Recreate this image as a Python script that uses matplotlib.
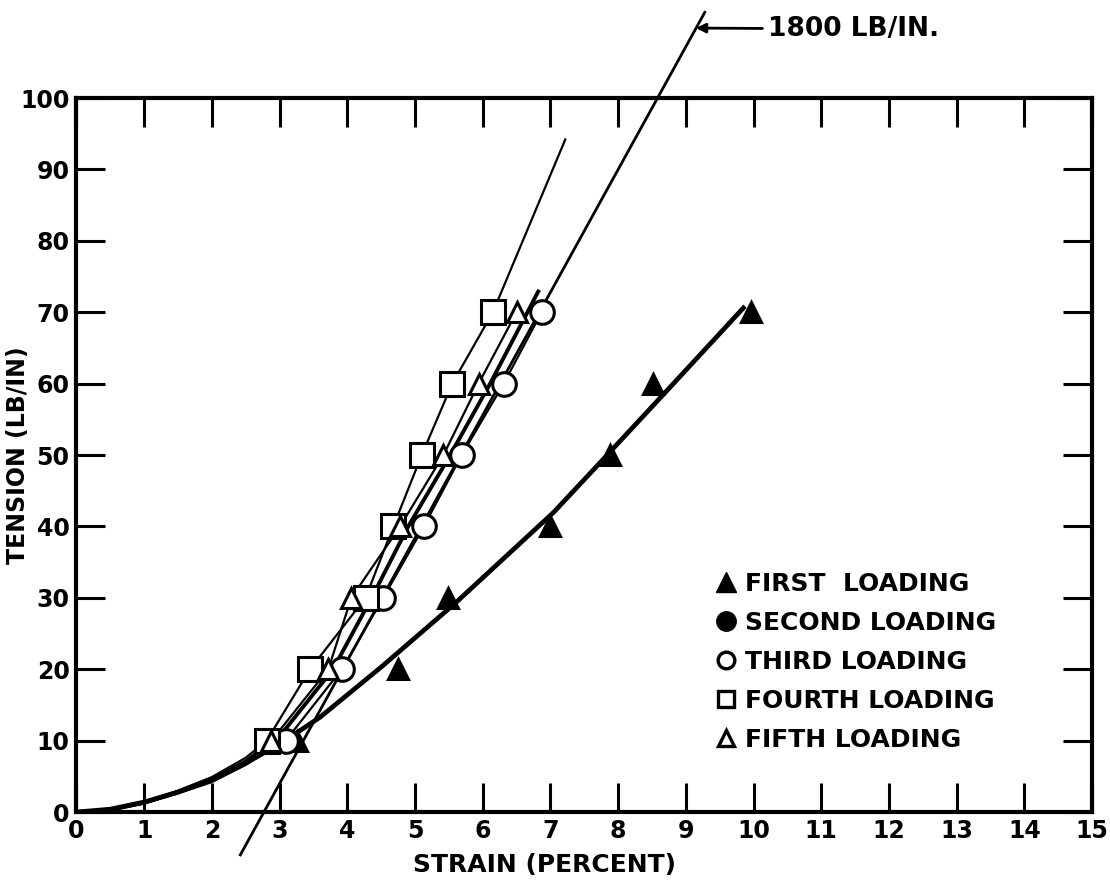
import matplotlib.pyplot as plt
from matplotlib.lines import Line2D

plt.rcParams['font.family'] = ['DejaVu Sans']
plt.rcParams['font.weight'] = 'bold'
plt.rcParams['axes.labelweight'] = 'bold'

# first loading: measured points and the faired curve through them
first_x = [3.25, 4.75, 5.49, 6.99, 7.88, 8.52, 9.97]
first_y = [10, 20, 30, 40, 50, 60, 70]
first_curve_x = [0, 0.5, 1, 1.5, 2, 2.5, 3, 3.6, 4.5, 5.6, 7.05, 7.73, 8.69, 9.85]
first_curve_y = [0, 0.4, 1.4, 2.8, 4.6, 6.9, 9.5, 13.3, 20.3, 29.3, 42, 48.9, 58.7, 70.6]

# second loading (curve only)
second_x = [0, 0.5, 1, 1.5, 2, 2.5, 2.95, 3.79, 4.36, 4.9, 5.52, 6.11, 6.82]
second_y = [0, 0.3, 1.3, 2.8, 4.5, 7.0, 10, 20, 30, 40, 50, 60, 72.9]

# third loading
third_x = [3.09, 3.92, 4.53, 5.13, 5.69, 6.31, 6.87]
third_y = [10, 20, 30, 40, 50, 60, 70]
third_start_x = [0, 0.5, 1, 1.5, 2, 2.5, 3.09]
third_start_y = [0, 0.3, 1.2, 2.6, 4.2, 6.6, 10]

# fourth loading
fourth_x = [2.81, 3.45, 4.27, 4.68, 5.10, 5.55, 6.15]
fourth_y = [10, 20, 30, 40, 50, 60, 70]
fourth_start_x = [0, 0.5, 1, 1.5, 2, 2.5, 2.81]
fourth_start_y = [0, 0.35, 1.4, 3.0, 4.9, 7.6, 10]
fourth_ext_x = [6.15, 7.22]
fourth_ext_y = [70, 94.2]

# fifth loading
fifth_x = [2.88, 3.72, 4.06, 4.78, 5.42, 5.94, 6.50]
fifth_y = [10, 20, 30, 40, 50, 60, 70]
fifth_start_x = [0, 0.5, 1, 1.5, 2, 2.5, 2.88]
fifth_start_y = [0, 0.3, 1.3, 2.9, 4.6, 7.2, 10]

# 1800 lb/in reference slope
slope_x = [2.42, 9.28]
slope_y = [-6, 112]

x_ticks = list(range(0, 16))
y_ticks = list(range(0, 101, 10))

fig = plt.figure(figsize=(11.1, 8.84), dpi=100)
ax = fig.add_axes([0.0689, 0.0814, 0.9149, 0.8077])

mk = dict(markersize=17, markeredgewidth=2.2, markeredgecolor='black',
          markerfacecolor='white', linestyle='none', zorder=4)

ax.plot(first_curve_x, first_curve_y, color='black', lw=3.4, zorder=3)
ax.plot(first_x, first_y, marker='^', **{**mk, 'markerfacecolor': 'black', 'markersize': 15})

ax.plot(second_x, second_y, color='black', lw=2.8, zorder=3)

ax.plot(third_start_x + third_x[1:], third_start_y + third_y[1:], color='black', lw=1.6, zorder=3)
ax.plot(third_x, third_y, marker='o', **mk)

ax.plot(fourth_start_x + fourth_x[1:], fourth_start_y + fourth_y[1:], color='black', lw=1.6, zorder=3)
ax.plot(fourth_ext_x, fourth_ext_y, color='black', lw=1.6, zorder=3)
ax.plot(fourth_x, fourth_y, marker='s', **mk)

ax.plot(fifth_start_x + fifth_x[1:], fifth_start_y + fifth_y[1:], color='black', lw=1.6, zorder=3)
ax.plot(fifth_x, fifth_y, marker='^', **{**mk, 'markersize': 15})

ax.plot(slope_x, slope_y, color='black', lw=2.0, clip_on=False, zorder=3)

ax.annotate('1800 LB/IN.', xy=(9.15, 109.8), xytext=(768 / 1110, 1 - 29 / 884),
            textcoords='figure fraction', ha='left', va='center', fontsize=19,
            annotation_clip=False,
            arrowprops=dict(arrowstyle='-|>', color='black', lw=2,
                            shrinkA=2, shrinkB=0, mutation_scale=14))

ax.set_xlim(0, 15)
ax.set_ylim(0, 100)
ax.set_xticks(x_ticks)
ax.set_yticks(y_ticks)
ax.tick_params(direction='in', length=21, width=2.2, top=True, right=True,
               labelsize=17, pad=5)
for s in ax.spines.values():
    s.set_linewidth(3)

ax.set_xlabel('STRAIN (PERCENT)', fontsize=18)
ax.set_ylabel('TENSION (LB/IN)', fontsize=17)
ax.xaxis.set_label_coords(0.461, -0.058)
ax.yaxis.set_label_coords(-0.046, 0.5)

handles = [
    Line2D([], [], marker='^', linestyle='none', markersize=14, markerfacecolor='black',
           markeredgecolor='black'),
    Line2D([], [], marker='o', linestyle='none', markersize=14, markerfacecolor='black',
           markeredgecolor='black'),
    Line2D([], [], marker='o', linestyle='none', markersize=12, markerfacecolor='white',
           markeredgecolor='black', markeredgewidth=2.4),
    Line2D([], [], marker='s', linestyle='none', markersize=12, markerfacecolor='white',
           markeredgecolor='black', markeredgewidth=2.4),
    Line2D([], [], marker='^', linestyle='none', markersize=12, markerfacecolor='white',
           markeredgecolor='black', markeredgewidth=2.4),
]
labels = ['FIRST  LOADING', 'SECOND LOADING', 'THIRD LOADING', 'FOURTH LOADING', 'FIFTH LOADING']
ax.legend(handles, labels, loc='upper left', bbox_to_anchor=(716 / 1110, 1 - 572 / 884),
          bbox_transform=fig.transFigure, frameon=False, fontsize=18,
          handlelength=0.8, handletextpad=0.35, labelspacing=0.6, borderpad=0,
          borderaxespad=0)

fig.savefig('out.png', dpi=100)
